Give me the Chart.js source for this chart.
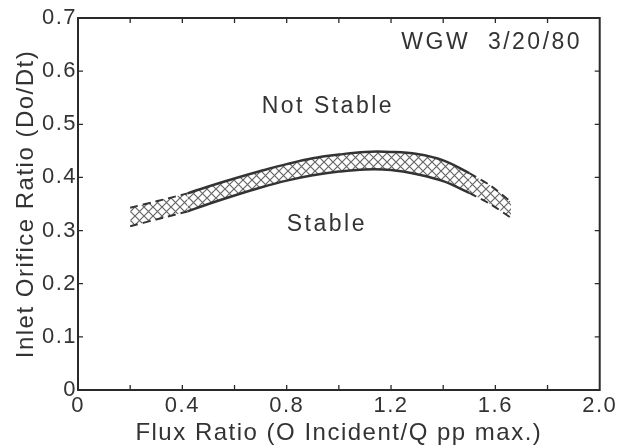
<!doctype html>
<html lang="en">
<head>
  <meta charset="UTF-8">
  <title>Inlet Orifice Ratio vs Flux Ratio</title>
  <script src="https://cdn.jsdelivr.net/npm/chart.js"></script>
  <style>
    html, body { margin: 0; padding: 0; background: #fff; }
    #wrap { width: 618px; height: 448px; }
  </style>
</head>
<body>
<div id="wrap"><canvas id="chart" width="618" height="448"></canvas></div>
<script>
  // band boundaries
  const solidX = [0.42, 0.5, 0.6, 0.7, 0.8, 0.9, 1.0, 1.1, 1.2, 1.3, 1.4, 1.5];
  const solidUpper = [0.370, 0.383, 0.398, 0.412, 0.425, 0.436, 0.443, 0.448, 0.448, 0.444, 0.432, 0.408];
  const solidLower = [0.336, 0.350, 0.366, 0.381, 0.394, 0.404, 0.411, 0.415, 0.414, 0.406, 0.393, 0.371];

  const leftX = [0.2, 0.3, 0.42];
  const leftUpper = [0.343, 0.355, 0.370];
  const leftLower = [0.308, 0.321, 0.336];

  const rightX = [1.5, 1.58, 1.66];
  const rightUpper = [0.408, 0.385, 0.354];
  const rightLower = [0.371, 0.350, 0.324];

  const xMinorTicks = [0.2, 0.4, 0.6, 0.8, 1.0, 1.2, 1.4, 1.6, 1.8];
  const yMinorTicks = [0.1, 0.2, 0.3, 0.4, 0.5, 0.6];

  const notes = [
    { text: 'Not Stable', x: 0.958, y: 0.534 },
    { text: 'Stable', x: 0.954, y: 0.311 },
    { text: 'WGW  3/20/80', x: 1.586, y: 0.653 }
  ];

  const ink = '#333';
  const fontFamily = '"Liberation Sans", Arial, sans-serif';

  function pts(xs, ys) {
    return xs.map((x, i) => ({ x: x, y: ys[i] }));
  }

  // crosshatch fill for the band
  function makeHatch() {
    const c = document.createElement('canvas');
    c.width = 9; c.height = 9;
    const g = c.getContext('2d');
    g.strokeStyle = '#666';
    g.lineWidth = 1.2;
    g.beginPath();
    g.moveTo(0, 0); g.lineTo(9, 9);
    g.moveTo(9, 0); g.lineTo(0, 9);
    g.stroke();
    return g.createPattern(c, 'repeat');
  }
  const hatch = makeHatch();

  function solid(data, fill) {
    return {
      data: data, borderColor: ink, borderWidth: 2.5, pointRadius: 0,
      tension: 0.4, fill: fill, backgroundColor: hatch
    };
  }
  function dashed(data, fill) {
    return {
      data: data, borderColor: ink, borderWidth: 2, borderDash: [8, 5], pointRadius: 0,
      tension: 0.3, fill: fill, backgroundColor: hatch
    };
  }

  const framePlugin = {
    id: 'frame',
    beforeDraw(chart) {
      chart.ctx.letterSpacing = '1.5px';
    },
    afterDatasetsDraw(chart) {
      const ctx = chart.ctx;
      const a = chart.chartArea;
      const x = chart.scales.x, y = chart.scales.y;
      ctx.save();
      ctx.strokeStyle = '#2a2a2a';
      ctx.lineWidth = 2;
      ctx.strokeRect(a.left, a.top, a.right - a.left, a.bottom - a.top);
      ctx.lineWidth = 1.3;
      ctx.beginPath();
      xMinorTicks.forEach(v => {
        const px = x.getPixelForValue(v);
        ctx.moveTo(px, a.bottom); ctx.lineTo(px, a.bottom - 5);
        ctx.moveTo(px, a.top); ctx.lineTo(px, a.top + 5);
      });
      yMinorTicks.forEach(v => {
        const py = y.getPixelForValue(v);
        ctx.moveTo(a.left, py); ctx.lineTo(a.left + 5, py);
        ctx.moveTo(a.right, py); ctx.lineTo(a.right - 5, py);
      });
      ctx.stroke();

      ctx.letterSpacing = '2.5px';
      ctx.fillStyle = ink;
      ctx.font = '23px ' + fontFamily;
      ctx.textAlign = 'center';
      ctx.textBaseline = 'middle';
      notes.forEach(n => {
        ctx.fillText(n.text, x.getPixelForValue(n.x), y.getPixelForValue(n.y));
      });
      ctx.restore();
    }
  };

  new Chart(document.getElementById('chart'), {
    type: 'line',
    data: {
      datasets: [
        solid(pts(solidX, solidUpper), false),
        solid(pts(solidX, solidLower), '-1'),
        dashed(pts(leftX, leftUpper), false),
        dashed(pts(leftX, leftLower), '-1'),
        dashed(pts(rightX, rightUpper), false),
        dashed(pts(rightX, rightLower), '-1')
      ]
    },
    options: {
      responsive: false,
      animation: false,
      layout: { padding: { top: 18, right: 18 } },
      plugins: { legend: { display: false }, tooltip: { enabled: false } },
      scales: {
        x: {
          type: 'linear', min: 0, max: 2,
          afterFit(s) { s.height = 58; },
          grid: { display: false, drawTicks: false, tickLength: 0 },
          border: { display: false },
          ticks: {
            stepSize: 0.4, padding: 3, color: ink,
            font: { family: fontFamily, size: 22 },
            callback: v => v === 0 ? '0' : Number(v).toFixed(1)
          },
          title: {
            display: true, text: 'Flux Ratio (O Incident/Q pp max.)', color: ink,
            font: { family: fontFamily, size: 24 }, padding: { top: 0, bottom: 0 }
          }
        },
        y: {
          type: 'linear', min: 0, max: 0.7,
          afterFit(s) { s.width = 78; },
          grid: { display: false, drawTicks: false, tickLength: 0 },
          border: { display: false },
          ticks: {
            stepSize: 0.1, padding: 1, color: ink,
            font: { family: fontFamily, size: 22 },
            callback: v => v === 0 ? '0' : Number(v).toFixed(1)
          },
          title: {
            display: true, text: 'Inlet Orifice Ratio (Do/Dt)', color: ink,
            font: { family: fontFamily, size: 24 }, padding: { top: 12, bottom: 0 }
          }
        }
      }
    },
    plugins: [framePlugin]
  });
</script>
</body>
</html>
